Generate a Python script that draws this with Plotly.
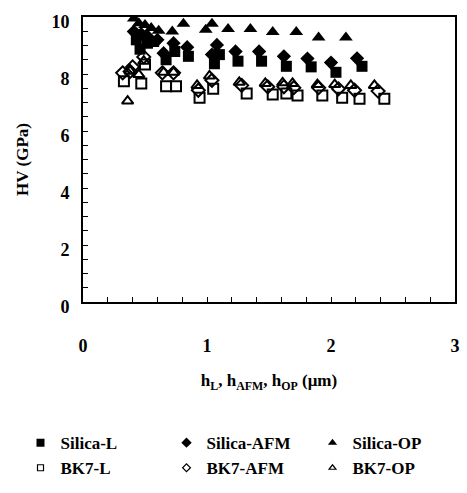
import plotly.graph_objects as go

# Data
silica_L_x = [0.43, 0.46, 0.52, 0.57, 0.67, 0.74, 0.85, 1.06, 1.10, 1.25, 1.44, 1.64, 1.84, 2.04, 2.25]
silica_L_y = [9.20, 8.87, 9.08, 9.14, 8.50, 8.79, 8.62, 8.36, 8.68, 8.45, 8.45, 8.27, 8.25, 8.06, 8.27]

silica_AFM_x = [0.41, 0.47, 0.52, 0.60, 0.65, 0.73, 0.84, 1.04, 1.08, 1.23, 1.42, 1.62, 1.81, 2.00, 2.21]
silica_AFM_y = [9.49, 9.40, 9.32, 9.20, 8.73, 9.08, 8.94, 8.68, 9.02, 8.79, 8.79, 8.62, 8.54, 8.40, 8.55]

silica_OP_x = [0.41, 0.45, 0.50, 0.55, 0.61, 0.72, 0.81, 0.99, 1.04, 1.17, 1.35, 1.53, 1.72, 1.90, 2.12]
silica_OP_y = [9.95, 9.78, 9.72, 9.61, 9.52, 9.49, 9.76, 9.55, 9.76, 9.58, 9.58, 9.47, 9.47, 9.28, 9.28]

bk7_L_x = [0.33, 0.47, 0.50, 0.67, 0.75, 0.94, 1.05, 1.32, 1.53, 1.64, 1.73, 1.93, 2.09, 2.23, 2.43]
bk7_L_y = [7.75, 7.67, 8.33, 7.57, 7.57, 7.17, 7.48, 7.32, 7.28, 7.32, 7.25, 7.25, 7.17, 7.13, 7.13]

bk7_AFM_x = [0.32, 0.38, 0.40, 0.49, 0.64, 0.73, 0.93, 1.04, 1.28, 1.49, 1.62, 1.70, 1.90, 2.06, 2.19, 2.38]
bk7_AFM_y = [8.04, 8.09, 8.25, 8.60, 8.04, 8.04, 7.43, 7.78, 7.60, 7.55, 7.55, 7.52, 7.52, 7.48, 7.43, 7.40]

bk7_OP_x = [0.36, 0.38, 0.45, 0.49, 0.65, 0.73, 0.92, 1.02, 1.26, 1.47, 1.61, 1.69, 1.89, 2.03, 2.16, 2.35]
bk7_OP_y = [7.05, 8.10, 7.98, 8.45, 8.06, 8.06, 7.60, 7.93, 7.71, 7.67, 7.69, 7.67, 7.63, 7.63, 7.60, 7.60]

x_ticks = [0, 1, 2, 3]
y_ticks = [0, 2, 4, 6, 8, 10]

FONT = "Liberation Serif"

series = [
    ("Silica-L", silica_L_x, silica_L_y, "square", 11),
    ("Silica-AFM", silica_AFM_x, silica_AFM_y, "diamond", 11),
    ("Silica-OP", silica_OP_x, silica_OP_y, "triangle-up", 12),
    ("BK7-L", bk7_L_x, bk7_L_y, "square-open", 10),
    ("BK7-AFM", bk7_AFM_x, bk7_AFM_y, "diamond-open", 10),
    ("BK7-OP", bk7_OP_x, bk7_OP_y, "triangle-up-open", 10),
]

fig = go.Figure()
for name, xs, ys, sym, sz in series:
    fig.add_trace(go.Scatter(
        x=xs, y=ys, mode="markers", name=name, legendgroup=name, showlegend=False,
        marker=dict(symbol=sym, size=sz, color="black",
                    line=dict(color="black", width=2 if "open" in sym else 0)),
    ))
# legend entries with small symbols, as in the reference
for name, xs, ys, sym, sz in series:
    fig.add_trace(go.Scatter(
        x=[None], y=[None], mode="markers", name=name, legendgroup=name, showlegend=True,
        marker=dict(symbol=sym, size=6 if "open" in sym else 8, color="black",
                    line=dict(color="black", width=1.2 if "open" in sym else 0)),
    ))

fig.update_layout(
    width=467, height=493,
    margin=dict(l=83, r=7, t=17, b=189),
    paper_bgcolor="white", plot_bgcolor="white",
    font=dict(family=FONT, color="black", size=16),
    showlegend=True,
    legend=dict(
        orientation="h", x=-0.168, y=-0.432, xanchor="left", yanchor="top",
        entrywidth=101, entrywidthmode="pixels",
        font=dict(family=FONT, size=17, color="black", weight="bold"),
        tracegroupgap=0,
        bgcolor="rgba(0,0,0,0)",
    ),
    xaxis=dict(
        range=[0, 3], tickvals=x_ticks, ticktext=[str(v) for v in x_ticks],
        ticks="inside", ticklen=5, tickwidth=1, tickcolor="black",
        minor=dict(dtick=0.2, ticks="inside", ticklen=5, tickcolor="black"),
        showline=True, linewidth=2, linecolor="black", mirror=True,
        showgrid=False, zeroline=False,
        ticklabelstandoff=26,
        tickfont=dict(family=FONT, size=18, color="black", weight="bold"),
        title=dict(text="h<sub>L</sub>, h<sub>AFM</sub>, h<sub>OP</sub> (μm)",
                   font=dict(family=FONT, size=17, color="black", weight="bold"),
                   standoff=20),
    ),
    yaxis=dict(
        range=[0, 10], tickvals=y_ticks, ticktext=[str(v) for v in y_ticks],
        ticks="inside", ticklen=5, tickwidth=1, tickcolor="black",
        minor=dict(dtick=0.5, ticks="inside", ticklen=5, tickcolor="black"),
        showline=True, linewidth=2, linecolor="black", mirror=True,
        showgrid=False, zeroline=False,
        ticklabelstandoff=8, ticklabelshift=5,
        tickfont=dict(family=FONT, size=18, color="black", weight="bold"),
        title=dict(text="HV (GPa)",
                   font=dict(family=FONT, size=17, color="black", weight="bold"),
                   standoff=18),
    ),
)

fig.write_html("out.html")
